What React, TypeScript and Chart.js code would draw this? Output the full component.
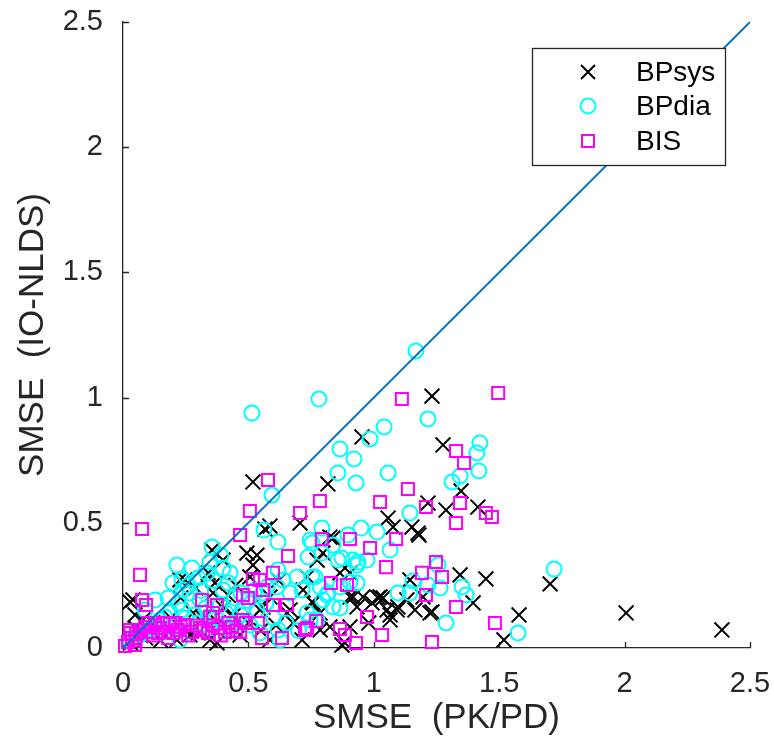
import React, { useEffect, useRef } from "react";
import { Chart, registerables } from "chart.js";

Chart.register(...registerables);

// ---- data (x = SMSE PK/PD, y = SMSE IO-NLDS) ----
const seriesNames = ["BPsys", "BPdia", "BIS"];
const xTickValues = [0, 0.5, 1, 1.5, 2, 2.5];
const yTickValues = [0, 0.5, 1, 1.5, 2, 2.5];
const identityLine = [[0, 0], [2.5, 2.5]];

const bpsysPoints = [
  [1.232, 1.006], [0.518, 0.663], [0.566, 0.475], [0.817, 0.655], [0.953, 0.843], [1.276, 0.811],
  [1.348, 0.627], [1.216, 0.579], [1.288, 0.551], [1.415, 0.563], [1.057, 0.519], [1.077, 0.483],
  [1.152, 0.483], [1.18, 0.451], [0.837, 0.439], [1.344, 0.292], [1.447, 0.276], [1.396, 0.18],
  [1.037, 0.2], [1.065, 0.132], [1.096, 0.164], [1.144, 0.272], [1.164, 0.152], [1.224, 0.14],
  [1.579, 0.132], [1.519, 0.032], [1.703, 0.256], [2.006, 0.14], [2.388, 0.072], [0.706, 0.499],
  [0.586, 0.487], [0.355, 0.391], [0.399, 0.351], [0.494, 0.379], [0.825, 0.443], [0.734, 0.284],
  [0.865, 0.3], [0.917, 0.204], [0.957, 0.204], [0.993, 0.18], [1.025, 0.204], [1.053, 0.152],
  [1.093, 0.152], [1.132, 0.192], [1.196, 0.204], [1.232, 0.144], [0.758, 0.18], [0.786, 0.072],
  [0.905, 0.084], [0.885, 0.02], [1.065, 0.112], [0.04, 0.192], [0.227, 0.272], [0.359, 0.22],
  [0.546, 0.152], [0.666, 0.152], [0.08, 0.112], [0.215, 0.032], [0.347, 0.032], [0.375, 0.02],
  [1.176, 0.459], [0.534, 0.371], [0.518, 0.331], [0.718, 0.232], [0.754, 0.184], [0.786, 0.14],
  [0.825, 0.084], [0.873, 0.012], [0.905, 0.204], [0.933, 0.164], [1.017, 0.2], [0.678, 0.1],
  [0.654, 0.14], [0.586, 0.204], [0.558, 0.164], [0.797, 0.379], [0.774, 0.351], [0.905, 0.3],
  [0.714, 0.032], [0.028, 0.184], [0.247, 0.272], [0.367, 0.26], [0.048, 0.132], [0.506, 0.284],
  [0.108, 0.072], [0.167, 0.092], [0.267, 0.052], [0.467, 0.052], [0.586, 0.032], [0.3, 0.06],
  [0.42, 0.08], [0.15, 0.03], [0.07, 0.05], [0.03, 0.02], [0.45, 0.25], [0.62, 0.27], [0.98, 0.1],
  [0.4, 0.16], [0.28, 0.14], [0.12, 0.1], [0.19, 0.12], [0.25, 0.08], [0.32, 0.12], [0.38, 0.1],
  [0.44, 0.13], [0.5, 0.1], [0.55, 0.07], [0.61, 0.09], [0.23, 0.2], [0.29, 0.24], [0.34, 0.3],
  [0.42, 0.21], [0.05, 0.08], [0.09, 0.04],
];

const bpdiaPoints = [
  [1.168, 1.186], [0.781, 0.994], [0.514, 0.938], [0.985, 0.835], [1.041, 0.883], [1.216, 0.915],
  [1.423, 0.819], [1.411, 0.779], [1.419, 0.707], [1.344, 0.687], [1.312, 0.663], [0.865, 0.795],
  [0.921, 0.755], [0.857, 0.699], [0.929, 0.659], [1.057, 0.699], [0.594, 0.611], [0.562, 0.471],
  [0.355, 0.403], [1.144, 0.539], [0.949, 0.479], [1.013, 0.463], [0.897, 0.451], [0.793, 0.479],
  [1.065, 0.391], [1.256, 0.331], [1.156, 0.268], [1.216, 0.252], [1.264, 0.24], [1.352, 0.244],
  [1.368, 0.212], [1.096, 0.22], [1.288, 0.1], [1.575, 0.06], [1.719, 0.315], [0.746, 0.431],
  [0.837, 0.411], [0.873, 0.359], [0.738, 0.363], [0.937, 0.343], [0.917, 0.351], [0.766, 0.284],
  [0.933, 0.26], [0.813, 0.212], [0.865, 0.16], [0.734, 0.14], [0.714, 0.232], [0.774, 0.112],
  [1.144, 0.22], [0.215, 0.331], [0.275, 0.319], [0.347, 0.343], [0.399, 0.319], [0.199, 0.26],
  [0.235, 0.272], [0.335, 0.3], [0.618, 0.423], [0.574, 0.244], [0.638, 0.272], [0.694, 0.284],
  [0.399, 0.232], [0.267, 0.22], [0.427, 0.3], [0.239, 0.232], [0.167, 0.124], [0.235, 0.152],
  [0.339, 0.124], [0.754, 0.419], [0.793, 0.379], [0.857, 0.351], [0.933, 0.331], [0.973, 0.351],
  [0.618, 0.312], [0.526, 0.232], [0.558, 0.22], [0.614, 0.244], [0.666, 0.22], [0.754, 0.284],
  [0.786, 0.244], [0.817, 0.22], [0.865, 0.244], [0.905, 0.264], [0.797, 0.192], [0.837, 0.164],
  [0.746, 0.112], [0.618, 0.072], [0.546, 0.06], [0.626, 0.032], [0.534, 0.152], [0.028, 0.032],
  [0.068, 0.052], [0.108, 0.08], [0.148, 0.112], [0.187, 0.144], [0.128, 0.192], [0.287, 0.132],
  [0.307, 0.192], [0.387, 0.172], [0.467, 0.132], [0.427, 0.072], [0.347, 0.08], [0.506, 0.092],
  [0.227, 0.032], [0.447, 0.2], [0.088, 0.152], [0.15, 0.06], [0.2, 0.09], [0.25, 0.12],
  [0.3, 0.1], [0.33, 0.16], [0.37, 0.12], [0.41, 0.14], [0.44, 0.1], [0.48, 0.16], [0.22, 0.18],
  [0.26, 0.25], [0.31, 0.23], [0.36, 0.27], [0.42, 0.26], [0.47, 0.22], [0.5, 0.19], [0.12, 0.08],
  [0.08, 0.06], [0.18, 0.2], [0.39, 0.37], [0.3, 0.28], [0.57, 0.18], [0.6, 0.12], [0.65, 0.1],
  [0.7, 0.07],
];

const bisPoints = [
  [1.496, 1.018], [1.112, 0.994], [0.578, 0.671], [0.076, 0.475], [0.068, 0.292], [0.076, 0.192],
  [0.092, 0.172], [0.506, 0.547], [0.467, 0.451], [0.706, 0.539], [0.658, 0.367], [0.518, 0.276],
  [0.546, 0.272], [0.598, 0.3], [0.478, 0.212], [0.498, 0.2], [0.558, 0.232], [0.598, 0.172],
  [0.654, 0.172], [0.315, 0.192], [0.347, 0.124], [0.359, 0.14], [0.478, 0.112], [0.538, 0.1],
  [0.554, 0.04], [0.634, 0.04], [0.734, 0.08], [0.785, 0.587], [1.025, 0.583], [1.136, 0.635],
  [1.208, 0.563], [1.344, 0.579], [1.328, 0.499], [1.447, 0.539], [1.471, 0.523], [1.328, 0.787],
  [1.36, 0.739], [0.793, 0.435], [0.905, 0.435], [0.985, 0.399], [1.089, 0.435], [1.049, 0.323],
  [1.248, 0.343], [1.192, 0.3], [1.272, 0.284], [1.208, 0.212], [1.328, 0.164], [0.829, 0.26],
  [0.893, 0.252], [0.973, 0.124], [0.77, 0.108], [0.865, 0.076], [0.885, 0.052], [0.929, 0.02],
  [1.033, 0.052], [1.232, 0.024], [1.483, 0.1], [0.726, 0.072], [0.375, 0.172], [0.008, 0.008],
  [0.02, 0.024], [0.036, 0.04], [0.052, 0.056], [0.068, 0.072], [0.088, 0.084], [0.108, 0.064],
  [0.128, 0.092], [0.148, 0.08], [0.167, 0.064], [0.187, 0.096], [0.219, 0.072], [0.247, 0.092],
  [0.275, 0.064], [0.307, 0.08], [0.339, 0.06], [0.379, 0.08], [0.407, 0.064], [0.435, 0.084],
  [0.467, 0.064], [0.048, 0.012], [0.028, 0.072], [0.12, 0.05], [0.16, 0.1], [0.2, 0.06],
  [0.23, 0.085], [0.26, 0.05], [0.29, 0.09], [0.32, 0.07], [0.36, 0.09], [0.39, 0.05], [0.42, 0.1],
  [0.45, 0.07], [0.49, 0.1], [0.03, 0.06], [0.05, 0.03], [0.1, 0.1], [0.14, 0.06], [0.18, 0.04],
  [0.21, 0.1],
];

const FONT = "'Liberation Sans', Arial, Helvetica, sans-serif";
const AXIS_COLOR = "#262626";

const toXY = (arr: number[][]) => arr.map(([x, y]) => ({ x, y }));
const fmtTick = (v: any) => `${Number(v)}`;

const inwardTicks = {
  id: "inwardTicks",
  beforeDatasetsDraw(chart: any) {
    const { ctx, scales } = chart;
    const xs = scales.x, ys = scales.y;
    const len = 6;
    ctx.save();
    ctx.strokeStyle = AXIS_COLOR;
    ctx.lineWidth = 1.3;
    ctx.beginPath();
    for (const v of xTickValues) {
      const px = Math.round(xs.getPixelForValue(v)) + 0.5;
      ctx.moveTo(px, ys.bottom);
      ctx.lineTo(px, ys.bottom - len);
    }
    for (const v of yTickValues) {
      const py = Math.round(ys.getPixelForValue(v)) + 0.5;
      ctx.moveTo(xs.left, py);
      ctx.lineTo(xs.left + len, py);
    }
    ctx.stroke();
    ctx.restore();
  },
};

const boxLegend = {
  id: "boxLegend",
  afterDraw(chart: any) {
    const { ctx, chartArea } = chart;
    const bx = chartArea.right - 218;
    const by = chartArea.top + 26;
    const bw = 193;
    const bh = 117;
    ctx.save();
    ctx.fillStyle = "#ffffff";
    ctx.fillRect(bx, by, bw, bh);
    ctx.strokeStyle = AXIS_COLOR;
    ctx.lineWidth = 1.3;
    ctx.strokeRect(bx + 0.5, by + 0.5, bw, bh);
    const mx = bx + 56;
    const tx = bx + 104;
    const rows = [by + 24, by + 58, by + 93];
    ctx.lineWidth = 2;
    ctx.strokeStyle = "#000000";
    ctx.beginPath();
    ctx.moveTo(mx - 7, rows[0] - 7); ctx.lineTo(mx + 7, rows[0] + 7);
    ctx.moveTo(mx + 7, rows[0] - 7); ctx.lineTo(mx - 7, rows[0] + 7);
    ctx.stroke();
    ctx.strokeStyle = "#00ffff";
    ctx.beginPath();
    ctx.arc(mx, rows[1], 7.5, 0, Math.PI * 2);
    ctx.stroke();
    ctx.strokeStyle = "#ff00ff";
    ctx.strokeRect(mx - 6, rows[2] - 6, 12, 12);
    ctx.fillStyle = "#000000";
    ctx.font = `28px ${FONT}`;
    ctx.textBaseline = "middle";
    ctx.textAlign = "left";
    seriesNames.forEach((n, i) => ctx.fillText(n, tx, rows[i] + 1));
    ctx.restore();
  },
};

export default function App() {
  const ref = useRef<HTMLCanvasElement>(null);
  useEffect(() => {
    if (!ref.current) return;
    const chart = new Chart(ref.current, {
      type: "scatter",
      data: {
        datasets: [
          {
            type: "line",
            label: "identity",
            data: toXY(identityLine),
            borderColor: "#0072BD",
            borderWidth: 1.8,
            pointRadius: 0,
            fill: false,
            order: 1,
            clip: false,
          } as any,
          {
            label: seriesNames[2],
            data: toXY(bisPoints),
            pointStyle: "rect",
            pointRadius: 8.5,
            borderColor: "#ff00ff",
            backgroundColor: "rgba(0,0,0,0)",
            borderWidth: 2,
            order: 2,
            clip: false,
          },
          {
            label: seriesNames[1],
            data: toXY(bpdiaPoints),
            pointStyle: "circle",
            pointRadius: 7.5,
            borderColor: "#00ffff",
            backgroundColor: "rgba(0,0,0,0)",
            borderWidth: 2,
            order: 3,
            clip: false,
          },
          {
            label: seriesNames[0],
            data: toXY(bpsysPoints),
            pointStyle: "crossRot",
            pointRadius: 10.5,
            borderColor: "#000000",
            backgroundColor: "#000000",
            borderWidth: 2,
            order: 4,
            clip: false,
          },
        ],
      },
      options: {
        responsive: false,
        animation: false,
        devicePixelRatio: 1,
        events: [],
        layout: { padding: { top: 22, right: 24, left: 0, bottom: 0 } },
        plugins: { legend: { display: false }, tooltip: { enabled: false } },
        scales: {
          x: {
            type: "linear",
            position: "bottom",
            min: 0,
            max: 2.5,
            afterFit: (s: any) => { s.height = 98; },
            afterBuildTicks: (s: any) => { s.ticks = xTickValues.map((v) => ({ value: v })); },
            ticks: { padding: 0, color: AXIS_COLOR, font: { family: FONT, size: 29 }, maxRotation: 0, autoSkip: false, callback: fmtTick },
            grid: { display: true, drawOnChartArea: false, drawTicks: true, tickLength: 19, color: "rgba(0,0,0,0)" },
            border: { display: true, color: AXIS_COLOR, width: 1.3 },
            title: {
              display: true,
              text: "SMSE  (PK/PD)",
              color: AXIS_COLOR,
              font: { family: FONT, size: 35 },
              padding: { top: 0, bottom: 7 },
            },
          },
          y: {
            type: "linear",
            position: "left",
            min: 0,
            max: 2.5,
            afterFit: (s: any) => { s.width = 123; },
            afterBuildTicks: (s: any) => { s.ticks = yTickValues.map((v) => ({ value: v })); },
            ticks: { padding: 0, color: AXIS_COLOR, font: { family: FONT, size: 29 }, autoSkip: false, callback: fmtTick },
            grid: { display: true, drawOnChartArea: false, drawTicks: true, tickLength: 20, color: "rgba(0,0,0,0)" },
            border: { display: true, color: AXIS_COLOR, width: 1.3 },
            title: {
              display: true,
              text: "SMSE  (IO-NLDS)",
              color: AXIS_COLOR,
              font: { family: FONT, size: 35 },
              padding: { top: 12, bottom: 0 },
            },
          },
        },
      },
      plugins: [inwardTicks, boxLegend],
    });
    return () => chart.destroy();
  }, []);
  return (
    <div style={{ position: "absolute", left: 0, top: 0, width: 774, height: 746, background: "#fff" }}>
      <canvas ref={ref} width={774} height={746} style={{ display: "block" }} />
    </div>
  );
}
